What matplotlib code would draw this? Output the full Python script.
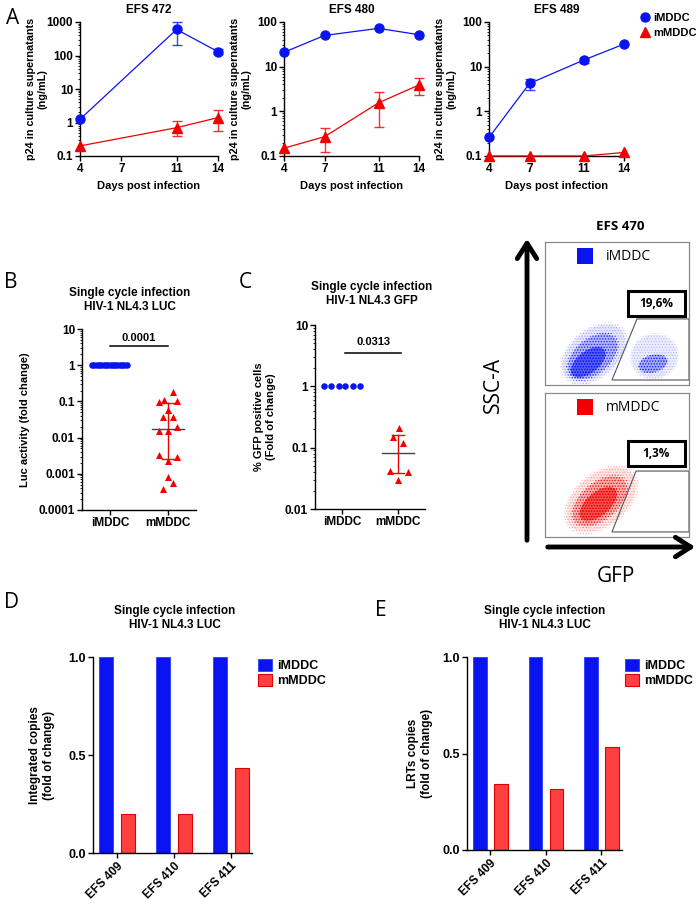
import numpy as np
import matplotlib
matplotlib.use("Agg")
import matplotlib.pyplot as plt
from matplotlib.lines import Line2D
from matplotlib.patches import Ellipse, Polygon, Rectangle, FancyArrowPatch

plt.rcParams["font.family"] = ["Liberation Sans", "DejaVu Sans"]
plt.rcParams["font.weight"] = "bold"
plt.rcParams["axes.labelweight"] = "bold"
plt.rcParams["hatch.linewidth"] = 0.6

W, H = 700, 906
BLUE = "#0a14f0"
RED = "#f00000"
BAR_RED = "#ff4040"
nan = np.nan

# ---- panel A: p24 kinetics ----
days = [4, 7, 11, 14]
a_donors = ["EFS 472", "EFS 480", "EFS 489"]
a_ytop = [1000, 100, 100]
a_imddc = [[1.25, nan, 600, 130], [21, 50, 72, 52], [0.26, 4.2, 14, 32]]
a_imddc_lo = [[nan, nan, 200, 110], [nan, nan, nan, nan], [nan, 3.0, 12, nan]]
a_imddc_hi = [[nan, nan, 1000, 155], [nan, nan, nan, nan], [nan, 5.3, 16, nan]]
a_mmddc = [[0.2, nan, 0.7, 1.4], [0.15, 0.27, 1.55, 3.9], [0.1, 0.1, 0.1, 0.12]]
a_mmddc_lo = [[nan, nan, 0.4, 0.55], [nan, 0.12, 0.45, 2.3], [nan, nan, nan, nan]]
a_mmddc_hi = [[nan, nan, 1.1, 2.3], [nan, 0.43, 2.7, 5.7], [nan, nan, nan, nan]]

# ---- panel B: luciferase ----
groups = ["iMDDC", "mMDDC"]
b_imddc = [1.0] * 16
b_imddc_dx = [-0.31, -0.27, -0.23, -0.19, -0.15, -0.11, -0.07, -0.03,
              0.01, 0.05, 0.09, 0.13, 0.17, 0.21, 0.25, 0.29]
b_mmddc = [0.18, 0.11, 0.096, 0.10, 0.059, 0.036, 0.036, 0.0196,
           0.015, 0.015, 0.0034, 0.003, 0.0023, 0.00084, 0.00057, 0.00038]
b_mmddc_dx = [0.08, -0.07, -0.15, 0.15, 0.0, -0.08, 0.09, 0.15,
              -0.15, 0.0, -0.15, 0.15, 0.0, 0.0, 0.08, -0.08]
b_median, b_q1, b_q3 = 0.0176, 0.0026, 0.09
b_pval = "0.0001"

# ---- panel C: GFP ----
c_imddc = [1.0] * 6
c_imddc_dx = [-0.32, -0.19, -0.06, 0.06, 0.19, 0.32]
c_mmddc = [0.21, 0.15, 0.12, 0.041, 0.040, 0.030]
c_mmddc_dx = [0.02, -0.09, 0.09, -0.15, 0.18, 0.0]
c_median, c_q1, c_q3 = 0.083, 0.038, 0.16
c_pval = "0.0313"

# ---- flow panel ----
flow_pct = ["19,6%", "1,3%"]
# clouds: (cx, cy, width, height, angle, alpha) in box-fraction units
blue_cloud = [(0.34, 0.22, 0.50, 0.32, 40, 0.15), (0.33, 0.20, 0.40, 0.24, 40, 0.4),
              (0.30, 0.16, 0.28, 0.15, 38, 0.9),
              (0.76, 0.20, 0.32, 0.30, 20, 0.12), (0.75, 0.15, 0.20, 0.12, 15, 0.5)]
red_cloud = [(0.39, 0.26, 0.56, 0.35, 40, 0.15), (0.38, 0.25, 0.44, 0.25, 40, 0.4),
             (0.37, 0.23, 0.31, 0.16, 40, 0.9)]

# ---- panels D/E: qPCR ----
donors_de = ["EFS 409", "EFS 410", "EFS 411"]
d_imddc = [1.0, 1.0, 1.0]
d_mmddc = [0.2, 0.2, 0.435]
e_imddc = [1.0, 1.0, 1.0]
e_mmddc = [0.34, 0.315, 0.535]


def rect(x0, y0, x1, y1):
    return [x0 / W, 1 - y1 / H, (x1 - x0) / W, (y1 - y0) / H]


def fx(x):
    return x / W


def fy(y):
    return 1 - y / H


def style_axis(ax):
    for s in ("top", "right"):
        ax.spines[s].set_visible(False)
    for s in ("left", "bottom"):
        ax.spines[s].set_linewidth(1.0)
    ax.tick_params(which="major", length=3.5, width=1.0, labelsize=8.5, pad=1.5)
    ax.tick_params(which="minor", length=1.8, width=0.6)
    for lab in ax.get_xticklabels() + ax.get_yticklabels():
        lab.set_fontweight("bold")


def log_fmt(v, _):
    return f"{v:g}"


fig = plt.figure(figsize=(7, 9.06), dpi=100)

# ---------------- A ----------------
a_rects = [(80, 22, 218, 156), (284, 22, 419, 156), (489, 22, 624, 156)]
for i, r in enumerate(a_rects):
    ax = fig.add_axes(rect(*r))
    for vals, lo, hi, col, mk, ms in (
        (a_imddc[i], a_imddc_lo[i], a_imddc_hi[i], BLUE, "o", 6.5),
        (a_mmddc[i], a_mmddc_lo[i], a_mmddc_hi[i], RED, "^", 6.5),
    ):
        x = np.array(days, float)
        y = np.array(vals, float)
        ok = np.isfinite(y)
        ax.plot(x[ok], y[ok], color=col, lw=0.9, marker=mk, ms=ms, clip_on=False, zorder=4)
        lo = np.array(lo, float)
        hi = np.array(hi, float)
        e = np.isfinite(lo)
        if e.any():
            ax.errorbar(x[e], y[e], yerr=[y[e] - lo[e], hi[e] - y[e]], fmt="none",
                        ecolor=col, elinewidth=1.0, capsize=3.5, capthick=1.0,
                        alpha=0.8, clip_on=False, zorder=3)
    ax.set_yscale("log")
    ax.set_ylim(0.1, a_ytop[i])
    ax.set_xlim(4, 14)
    ax.set_xticks(days)
    ax.yaxis.set_major_formatter(matplotlib.ticker.FuncFormatter(log_fmt))
    ax.yaxis.set_minor_formatter(matplotlib.ticker.NullFormatter())
    style_axis(ax)
    cx = (r[0] + r[2]) / 2
    fig.text(fx(cx), fy(10), a_donors[i], ha="center", va="center", fontsize=8.5)
    fig.text(fx(cx), fy(186), "Days post infection", ha="center", va="center", fontsize=8)
    fig.text(fx(r[0] - 43), fy(89), "p24 in culture supernatants\n(ng/mL)", rotation=90,
             ha="center", va="center", fontsize=7.8, linespacing=1.15,
             multialignment="center")

handles = [Line2D([], [], color=BLUE, marker="o", ls="none", ms=6.5),
           Line2D([], [], color=RED, marker="^", ls="none", ms=6.5)]
fig.legend(handles, groups, loc="upper left", bbox_to_anchor=(fx(639), fy(13)),
           frameon=False, prop={"weight": "bold", "size": 8}, handletextpad=0.15,
           labelspacing=0.45, handlelength=1.1, borderaxespad=0, borderpad=0)


# ---------------- B & C ----------------
def dot_panel(r, ylim, imddc, idx, mmddc, mdx, med, q1, q3, pval, bar_y, bar_x, ylabel, ylab_x):
    ax = fig.add_axes(rect(*r))
    ax.scatter(np.array(idx), imddc, s=22, color=BLUE, marker="o", lw=0, zorder=4, clip_on=False)
    ax.scatter(1 + np.array(mdx), mmddc, s=26, color=RED, marker="^", lw=0, zorder=4)
    ax.plot([1, 1], [q1, q3], color=RED, lw=1.0, zorder=3)
    ax.plot([0.9, 1.1], [q1, q1], color=RED, lw=1.0, zorder=3)
    ax.plot([0.9, 1.1], [q3, q3], color=RED, lw=1.0, zorder=3)
    ax.plot([0.72, 1.28], [med, med], color="#444444", lw=1.0, zorder=3)
    ax.plot(bar_x, [bar_y, bar_y], color="black", lw=1.1, clip_on=False)
    ax.text(np.mean(bar_x), bar_y * 1.25, pval, ha="center", va="bottom", fontsize=8)
    ax.set_yscale("log")
    ax.set_ylim(*ylim)
    ax.set_xlim(-0.48, 1.48)
    ax.set_xticks([0, 1])
    ax.set_xticklabels(groups)
    ax.yaxis.set_major_formatter(matplotlib.ticker.FuncFormatter(log_fmt))
    ax.yaxis.set_minor_formatter(matplotlib.ticker.NullFormatter())
    style_axis(ax)
    ax.tick_params(axis="x", labelsize=8.5)
    fig.text(fx(ylab_x), fy((r[1] + r[3]) / 2), ylabel, rotation=90, ha="center",
             va="center", fontsize=8, linespacing=1.15, multialignment="center")
    return ax


dot_panel((82, 329, 196, 510), (1e-4, 10), b_imddc, b_imddc_dx, b_mmddc, b_mmddc_dx,
          b_median, b_q1, b_q3, b_pval, 3.3, [0.0, 1.0], "Luc activity (fold change)", 25)
dot_panel((315, 325, 425, 509), (0.01, 10), c_imddc, c_imddc_dx, c_mmddc, c_mmddc_dx,
          c_median, c_q1, c_q3, c_pval, 3.5, [0.06, 1.06],
          "% GFP positive cells\n(Fold of change)", 265)

fig.text(fx(130), fy(300), "Single cycle infection\nHIV-1 NL4.3 LUC", ha="center",
         va="center", fontsize=8.5, linespacing=1.15)
fig.text(fx(372), fy(294), "Single cycle infection\nHIV-1 NL4.3 GFP", ha="center",
         va="center", fontsize=8.5, linespacing=1.15)

# ---------------- flow plots ----------------
flow_font = ["Open Sans", "DejaVu Sans"]


def flow_box(r, cloud, color, label, pct, gate, pct_box):
    ax = fig.add_axes(rect(*r))
    ax.set_xlim(0, 1)
    ax.set_ylim(0, 1)
    ax.set_xticks([])
    ax.set_yticks([])
    for s in ax.spines.values():
        s.set_color("#8a8a8a")
        s.set_linewidth(0.9)
    for cx, cy, w, h, ang, al in cloud:
        ax.add_patch(Ellipse((cx, cy), w, h, angle=ang, facecolor=color, alpha=al * 0.6, lw=0))
        ax.add_patch(Ellipse((cx, cy), w * 1.08, h * 1.08, angle=ang, facecolor="none",
                             edgecolor=color, hatch="......", alpha=min(1, al * 1.8), lw=0))
    ax.add_patch(Polygon(gate, closed=True, fill=False, edgecolor="#555555", lw=0.8))
    ax.add_patch(Rectangle((0.225, 0.845), 0.11, 0.11, facecolor=color, lw=0))
    ax.text(0.42, 0.9, label, ha="left", va="center", fontsize=10, fontweight="normal",
            family=flow_font)
    x0, y0, x1, y1 = pct_box
    ax.add_patch(Rectangle((x0, y0), x1 - x0, y1 - y0, fill=False, edgecolor="black", lw=2.2))
    ax.text((x0 + x1) / 2, (y0 + y1) / 2, pct, ha="center", va="center", fontsize=8.5,
            family=flow_font, fontweight="bold")


flow_box((545, 242, 689, 385), blue_cloud, BLUE, groups[0], flow_pct[0],
         [(0.639, 0.462), (1.0, 0.462), (1.0, 0.035), (0.465, 0.035)],
         (0.576, 0.483, 0.972, 0.657))
flow_box((545, 393, 689, 537), red_cloud, RED, groups[1], flow_pct[1],
         [(0.632, 0.458), (1.0, 0.458), (1.0, 0.035), (0.465, 0.035)],
         (0.576, 0.493, 0.972, 0.667))

for p0, p1 in (((527, 543), (527, 236)), ((545, 547), (698, 547))):
    fig.add_artist(FancyArrowPatch((fx(p0[0]), fy(p0[1])), (fx(p1[0]), fy(p1[1])),
                                   transform=fig.transFigure,
                                   arrowstyle="->,head_length=0.55,head_width=0.35",
                                   mutation_scale=20, lw=3.5, color="black"))
fig.text(fx(493), fy(385), "SSC-A", rotation=90, ha="center", va="center", fontsize=15,
         fontweight="normal", family=flow_font)
fig.text(fx(616), fy(577), "GFP", ha="center", va="center", fontsize=15,
         fontweight="normal", family=flow_font)
fig.text(fx(620), fy(226), "EFS 470", ha="center", va="center", fontsize=9.5,
         fontweight="bold", family=flow_font)


# ---------------- D & E ----------------
def bar_panel(r, imddc, mmddc, ylabel, ylab_x, leg_x, title_x):
    ax = fig.add_axes(rect(*r))
    x = np.arange(len(donors_de))
    ax.bar(x - 0.19, imddc, width=0.245, color=BLUE, edgecolor="#2a3cff", lw=0.6,
           label=groups[0])
    ax.bar(x + 0.19, mmddc, width=0.245, color=BAR_RED, edgecolor="#e00000", lw=0.8,
           label=groups[1])
    ax.set_ylim(0, 1.0)
    ax.set_yticks([0.0, 0.5, 1.0])
    ax.yaxis.set_major_formatter(matplotlib.ticker.FormatStrFormatter("%.1f"))
    ax.set_xlim(-0.42, 2.37)
    ax.set_xticks(x)
    ax.set_xticklabels(donors_de, rotation=45, ha="right", rotation_mode="anchor")
    style_axis(ax)
    ax.tick_params(axis="y", labelsize=9)
    ax.tick_params(axis="x", labelsize=8.5)
    fig.legend(loc="upper left", bbox_to_anchor=(fx(leg_x), fy(659)),
               frameon=False, prop={"weight": "bold", "size": 9}, handlelength=1.1,
               handleheight=1.1, handletextpad=0.4, labelspacing=0.1, borderaxespad=0,
               borderpad=0, handles=ax.get_legend_handles_labels()[0])
    fig.text(fx(ylab_x), fy((r[1] + r[3]) / 2), ylabel, rotation=90, ha="center",
             va="center", fontsize=8.5, linespacing=1.15, multialignment="center")
    fig.text(fx(title_x), fy(618), "Single cycle infection\nHIV-1 NL4.3 LUC", ha="center",
             va="center", fontsize=8.5, linespacing=1.2)
    return ax


bar_panel((93, 657, 252, 853), d_imddc, d_mmddc, "Integrated copies\n(fold of change)",
          42, 258, 175)
bar_panel((467, 657, 622, 850), e_imddc, e_mmddc, "LRTs copies\n(fold of change)",
          420, 625, 545)

# panel letters
for letter, x, y in (("A", 13, 18), ("B", 11, 283), ("C", 245, 283), ("D", 11, 603),
                     ("E", 381, 610)):
    fig.text(fx(x), fy(y), letter, ha="center", va="center", fontsize=15,
             fontweight="normal", family=flow_font)

fig.savefig("out.png", dpi=100)
